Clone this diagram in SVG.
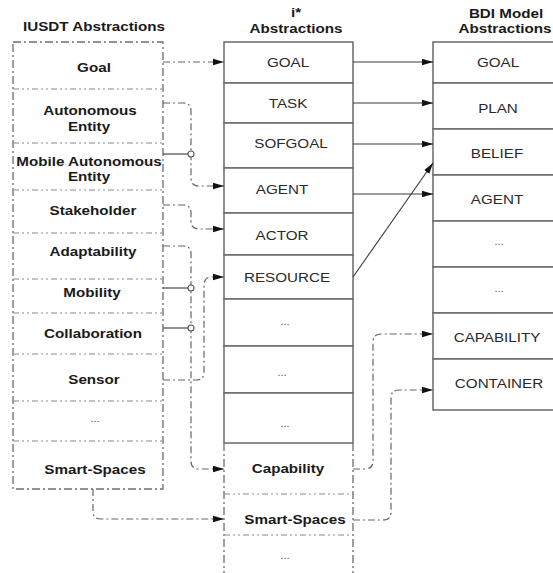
<svg xmlns="http://www.w3.org/2000/svg" width="553" height="573" viewBox="0 0 553 573">
<style>
.bg{fill:#ffffff}
.hdr{font-family:"Liberation Sans",Arial,sans-serif;font-weight:bold;font-size:13px;fill:#1a1a1a;text-anchor:middle}
.lb{font-family:"Liberation Sans",Arial,sans-serif;font-weight:bold;font-size:13px;fill:#1a1a1a;text-anchor:middle}
.ln{font-family:"Liberation Sans",Arial,sans-serif;font-size:13px;fill:#2a2a2a;text-anchor:middle}
.dots{font-family:"Liberation Sans",Arial,sans-serif;font-size:11px;fill:#555;text-anchor:middle}
.frame{fill:none;stroke:#6e6e6e;stroke-width:1.3;stroke-dasharray:8 3 2 3}
.div{fill:none;stroke:#8a8a8a;stroke-width:1.2;stroke-dasharray:6 3 2 3 2 3}
.box{fill:#ffffff;stroke:#6a6a6a;stroke-width:1.5}
.dc{fill:none;stroke:#666;stroke-width:1.2;stroke-dasharray:7 3 2 3}
.sc{fill:none;stroke:#3a3a3a;stroke-width:1.1}
.hop{fill:#ffffff;stroke:#555;stroke-width:1.1}
</style>
<defs>
<marker id="ah" markerUnits="userSpaceOnUse" markerWidth="12" markerHeight="8" refX="11" refY="4" orient="auto">
<path d="M0,0.8 L11,4 L0,7.2 Z" fill="#111"/>
</marker>
</defs>
<rect class="bg" x="0" y="0" width="553" height="573"/>

<g id="headers">
<text class="hdr" transform="translate(94,31) scale(1.17,1)">IUSDT Abstractions</text>
<text class="hdr" transform="translate(296,17) scale(1.17,1)">i*</text>
<text class="hdr" transform="translate(296,33) scale(1.17,1)">Abstractions</text>
<text class="hdr" transform="translate(506,18) scale(1.17,1)">BDI Model</text>
<text class="hdr" transform="translate(505,33) scale(1.17,1)">Abstractions</text>
</g>

<g id="iusdt-frame">
<rect class="frame" x="13" y="42" width="150" height="447"/>
</g>
<g id="iusdt-goal"><text class="lb" transform="translate(94,72) scale(1.17,1)">Goal</text><line class="div" x1="13" y1="89" x2="163" y2="89"/></g>
<g id="iusdt-autonomous"><text class="lb" transform="translate(90,115) scale(1.17,1)">Autonomous</text><text class="lb" transform="translate(89,131) scale(1.17,1)">Entity</text><line class="div" x1="13" y1="143" x2="163" y2="143"/></g>
<g id="iusdt-mobile"><text class="lb" transform="translate(89,166) scale(1.17,1)">Mobile Autonomous</text><text class="lb" transform="translate(89,181) scale(1.17,1)">Entity</text><line class="div" x1="13" y1="190" x2="163" y2="190"/></g>
<g id="iusdt-stakeholder"><text class="lb" transform="translate(93,215) scale(1.17,1)">Stakeholder</text><line class="div" x1="13" y1="233" x2="163" y2="233"/></g>
<g id="iusdt-adaptability"><text class="lb" transform="translate(93,256) scale(1.17,1)">Adaptability</text><line class="div" x1="13" y1="279" x2="163" y2="279"/></g>
<g id="iusdt-mobility"><text class="lb" transform="translate(92,297) scale(1.17,1)">Mobility</text><line class="div" x1="13" y1="313" x2="163" y2="313"/></g>
<g id="iusdt-collaboration"><text class="lb" transform="translate(93,338) scale(1.17,1)">Collaboration</text><line class="div" x1="13" y1="354" x2="163" y2="354"/></g>
<g id="iusdt-sensor"><text class="lb" transform="translate(94,384) scale(1.17,1)">Sensor</text><line class="div" x1="13" y1="401" x2="163" y2="401"/></g>
<g id="iusdt-more"><text class="dots" x="95" y="422">...</text><line class="div" x1="13" y1="441" x2="163" y2="441"/></g>
<g id="iusdt-smartspaces"><text class="lb" transform="translate(95,474) scale(1.17,1)">Smart-Spaces</text></g>

<g id="istar-goal"><rect class="box" x="224" y="42" width="129" height="41"/><text class="ln" transform="translate(288,67) scale(1.17,1)">GOAL</text></g>
<g id="istar-task"><rect class="box" x="224" y="83" width="129" height="40"/><text class="ln" transform="translate(288,108) scale(1.17,1)">TASK</text></g>
<g id="istar-softgoal"><rect class="box" x="224" y="123" width="129" height="45"/><text class="ln" transform="translate(291,148) scale(1.17,1)">SOFGOAL</text></g>
<g id="istar-agent"><rect class="box" x="224" y="168" width="129" height="45"/><text class="ln" transform="translate(282,194) scale(1.17,1)">AGENT</text></g>
<g id="istar-actor"><rect class="box" x="224" y="213" width="129" height="42"/><text class="ln" transform="translate(282,240) scale(1.17,1)">ACTOR</text></g>
<g id="istar-resource"><rect class="box" x="224" y="255" width="129" height="44"/><text class="ln" transform="translate(287,282) scale(1.17,1)">RESOURCE</text></g>
<g id="istar-more1"><rect class="box" x="224" y="299" width="129" height="47"/><text class="dots" x="285" y="325">...</text></g>
<g id="istar-more2"><rect class="box" x="224" y="346" width="129" height="47"/><text class="dots" x="282" y="376">...</text></g>
<g id="istar-more3"><rect class="box" x="224" y="393" width="129" height="50"/><text class="dots" x="285" y="427">...</text></g>
<g id="istar-ext-frame">
<line class="frame" x1="224" y1="443" x2="224" y2="573"/>
<line class="frame" x1="353" y1="443" x2="353" y2="573"/>
</g>
<g id="istar-capability"><text class="lb" transform="translate(288,473) scale(1.17,1)">Capability</text><line class="div" x1="224" y1="494" x2="353" y2="494"/></g>
<g id="istar-smartspaces"><text class="lb" transform="translate(295,524) scale(1.17,1)">Smart-Spaces</text><line class="div" x1="224" y1="535" x2="353" y2="535"/></g>
<g id="istar-more4"><text class="dots" x="285" y="559">...</text></g>

<g id="bdi-goal"><rect class="box" x="433" y="42" width="124" height="41"/><text class="ln" transform="translate(498,67) scale(1.17,1)">GOAL</text></g>
<g id="bdi-plan"><rect class="box" x="433" y="83" width="124" height="46"/><text class="ln" transform="translate(498,113) scale(1.17,1)">PLAN</text></g>
<g id="bdi-belief"><rect class="box" x="433" y="129" width="124" height="46"/><text class="ln" transform="translate(497,158) scale(1.17,1)">BELIEF</text></g>
<g id="bdi-agent"><rect class="box" x="433" y="175" width="124" height="46"/><text class="ln" transform="translate(497,204) scale(1.17,1)">AGENT</text></g>
<g id="bdi-more1"><rect class="box" x="433" y="221" width="124" height="46"/><text class="dots" x="499" y="245">...</text></g>
<g id="bdi-more2"><rect class="box" x="433" y="267" width="124" height="46"/><text class="dots" x="499" y="292">...</text></g>
<g id="bdi-capability"><rect class="box" x="433" y="313" width="124" height="46"/><text class="ln" transform="translate(497,342) scale(1.17,1)">CAPABILITY</text></g>
<g id="bdi-container"><rect class="box" x="433" y="359" width="124" height="51"/><text class="ln" transform="translate(499,388) scale(1.17,1)">CONTAINER</text></g>

<g id="connectors">
<path class="dc" d="M163,62 H224" marker-end="url(#ah)"/>
<path class="dc" d="M163,103 H183 Q191,103 191,111 V178 Q191,186 199,186 H224" marker-end="url(#ah)"/>
<path class="sc" d="M163,154 H188"/>
<circle class="hop" cx="191" cy="154" r="3"/>
<path class="dc" d="M163,205 H183 Q191,205 191,213 V221 Q191,229 199,229 H224" marker-end="url(#ah)"/>
<path class="dc" d="M163,246 H183 Q191,246 191,254 V461 Q191,469 199,469 H224" marker-end="url(#ah)"/>
<path class="sc" d="M163,288 H188"/>
<circle class="hop" cx="191" cy="288" r="3"/>
<path class="sc" d="M163,328 H188"/>
<circle class="hop" cx="191" cy="328" r="3"/>
<path class="dc" d="M163,380 H196 Q204,380 204,372 V285 Q204,277 212,277 H224" marker-end="url(#ah)"/>
<path class="dc" d="M93,489 V511 Q93,519 101,519 H224" marker-end="url(#ah)"/>
<path class="dc" d="M353,469 H365 Q373,469 373,461 V342 Q373,334 381,334 H433" marker-end="url(#ah)"/>
<path class="dc" d="M353,520 H383 Q391,520 391,512 V398 Q391,390 399,390 H433" marker-end="url(#ah)"/>
<path class="sc" d="M353,62 H433" marker-end="url(#ah)"/>
<path class="sc" d="M353,103 H433" marker-end="url(#ah)"/>
<path class="sc" d="M353,144 H433" marker-end="url(#ah)"/>
<path class="sc" d="M353,194 H433" marker-end="url(#ah)"/>
<path class="sc" d="M353,277 L433,163" marker-end="url(#ah)"/>
</g>
</svg>
